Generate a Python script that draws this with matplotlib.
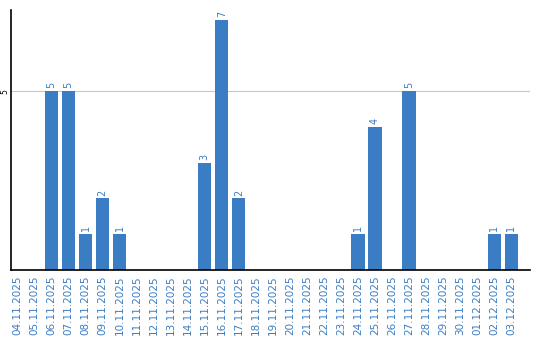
import matplotlib
matplotlib.use('Agg')
import matplotlib.pyplot as plt
import numpy as np

dates = ['04.11.2025', '05.11.2025', '06.11.2025', '07.11.2025', '08.11.2025',
         '09.11.2025', '10.11.2025', '11.11.2025', '12.11.2025', '13.11.2025',
         '14.11.2025', '15.11.2025', '16.11.2025', '17.11.2025', '18.11.2025',
         '19.11.2025', '20.11.2025', '21.11.2025', '22.11.2025', '23.11.2025',
         '24.11.2025', '25.11.2025', '26.11.2025', '27.11.2025', '28.11.2025',
         '29.11.2025', '30.11.2025', '01.12.2025', '02.12.2025', '03.12.2025']
counts = [0, 0, 5, 5, 1, 2, 1, 0, 0, 0,
          0, 3, 7, 2, 0, 0, 0, 0, 0, 0,
          1, 4, 0, 5, 0, 0, 0, 0, 1, 1]

blue = '#3b7dc4'

fig = plt.figure(figsize=(5.4, 3.4), dpi=100)
ax = fig.add_axes([0.0204, 0.206, 0.961, 0.765])

x = np.arange(len(dates))
bars = ax.bar(x, counts, width=0.78, color=blue, zorder=2)
for xi, v in zip(x, counts):
    if v > 0:
        ax.text(xi, v + 0.08, str(v), rotation=90, ha='center', va='bottom',
                fontsize=7, color=blue)

ax.set_xlim(-0.38, 30.1)
ax.set_ylim(0, 7.27)
ax.set_yticks([5])
ax.set_yticklabels(['5'], rotation=90, va='center', fontsize=5.5)
ax.tick_params(axis='y', length=0, pad=1)
ax.yaxis.grid(True, color='#c8c8c8', linewidth=0.8, zorder=0)
ax.set_axisbelow(True)

ax.set_xticks(x)
ax.set_xticklabels(dates, rotation=90, fontsize=7.5, color=blue)
ax.tick_params(axis='x', length=0, pad=4)

ax.spines['top'].set_visible(False)
ax.spines['right'].set_visible(False)
ax.spines['left'].set_linewidth(1.2)
ax.spines['bottom'].set_linewidth(1.2)

fig.savefig('out.png', dpi=100)
